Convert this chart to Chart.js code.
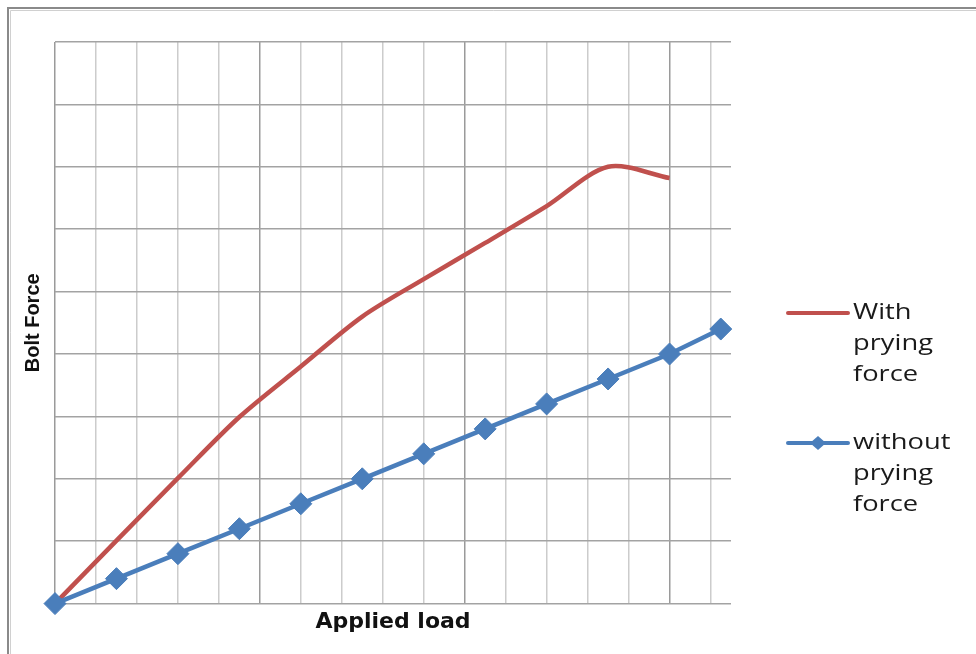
<!DOCTYPE html>
<html>
<head>
<meta charset="utf-8">
<script src="https://cdn.jsdelivr.net/npm/chart.js@4"></script>
<style>
  html, body { margin: 0; padding: 0; background: #ffffff; }
  #wrap { width: 976px; height: 654px; }
</style>
</head>
<body>
<div id="wrap"><canvas id="chart" width="976" height="654"></canvas></div>
<script>
// Applied load steps (x) and bolt force readings (y)
const loads = [0, 30, 60, 90, 120, 150, 180, 210, 240, 270, 300, 325];
const withPrying = [0, 10.1, 20.1, 29.9, 38.0, 46.0, 52.0, 57.8, 63.7, 70.0, 68.2];
const withoutPrying = [0, 4, 8, 12, 16, 20, 24, 28, 32, 36, 40, 44];

const seriesNames = [["With", "prying", "force"], ["without", "prying", "force"]];
const axisTitles = { x: "Applied load", y: "Bolt Force" };

const RED = "#c0504d";
const BLUE = "#4a7ebb";

function pairs(xs, ys) {
  return ys.map((v, i) => ({ x: xs[i], y: v }));
}

// Outer frame and the wrapped legend at the right
const framePlugin = {
  id: "frame",
  beforeDraw(chart) {
    const ctx = chart.ctx;
    ctx.save();
    ctx.fillStyle = "#ffffff";
    ctx.fillRect(0, 0, chart.width, chart.height);
    ctx.strokeStyle = "#8a8a8a";
    ctx.lineWidth = 2;
    ctx.beginPath();
    ctx.moveTo(8, chart.height);
    ctx.lineTo(8, 8);
    ctx.lineTo(chart.width, 8);
    ctx.stroke();
    ctx.strokeStyle = "#d0d0d0";
    ctx.lineWidth = 1;
    ctx.beginPath();
    ctx.moveTo(10.5, chart.height);
    ctx.lineTo(10.5, 10.5);
    ctx.lineTo(chart.width, 10.5);
    ctx.stroke();
    ctx.restore();
  },
  afterDraw(chart) {
    const ctx = chart.ctx;
    const entries = [
      { ds: chart.data.datasets[0], y: 313 },
      { ds: chart.data.datasets[1], y: 443 }
    ];
    ctx.save();
    entries.forEach((e) => {
      const ds = e.ds;
      ctx.strokeStyle = ds.borderColor;
      ctx.lineWidth = 4;
      ctx.lineCap = "round";
      ctx.beginPath();
      ctx.moveTo(788, e.y);
      ctx.lineTo(848, e.y);
      ctx.stroke();
      if (ds.pointStyle === "rectRot" && ds.pointRadius > 0) {
        ctx.fillStyle = ds.backgroundColor;
        ctx.beginPath();
        ctx.moveTo(818, e.y - 7);
        ctx.lineTo(826, e.y);
        ctx.lineTo(818, e.y + 7);
        ctx.lineTo(810, e.y);
        ctx.closePath();
        ctx.fill();
      }
      ctx.fillStyle = "#1a1a1a";
      ctx.font = "21px 'Open Sans'";
      ctx.textBaseline = "middle";
      ctx.textAlign = "left";
      ds.label.forEach((line, k) => {
        ctx.save();
        ctx.translate(853, e.y + k * 31);
        ctx.scale(1.3, 1);
        ctx.fillText(line, 0, 0);
        ctx.restore();
      });
    });
    ctx.restore();
  }
};

new Chart(document.getElementById("chart"), {
  type: "line",
  data: {
    datasets: [
      {
        label: seriesNames[0],
        data: pairs(loads, withPrying),
        borderColor: RED,
        backgroundColor: RED,
        borderWidth: 4.5,
        pointRadius: 0,
        pointHoverRadius: 0,
        tension: 0.3,
        fill: false,
        clip: false,
        order: 1
      },
      {
        label: seriesNames[1],
        data: pairs(loads, withoutPrying),
        borderColor: BLUE,
        backgroundColor: BLUE,
        borderWidth: 4.5,
        pointStyle: "rectRot",
        pointRadius: 11,
        pointBorderWidth: 1,
        pointBorderColor: BLUE,
        pointBackgroundColor: BLUE,
        tension: 0,
        fill: false,
        clip: false,
        order: 0
      }
    ]
  },
  options: {
    responsive: false,
    animation: false,
    devicePixelRatio: 1,
    layout: { padding: { left: 21, right: 245, top: 42, bottom: 19 } },
    plugins: {
      legend: { display: false },
      tooltip: { enabled: false },
      title: { display: false }
    },
    scales: {
      x: {
        type: "linear",
        min: 0,
        max: 330,
        border: { display: false },
        ticks: { display: false, stepSize: 20, includeBounds: false },
        grid: {
          drawTicks: false,
          lineWidth: 1.5,
          color: (c) => (c.tick && c.tick.value % 100 === 0 ? "#9a9a9a" : "#cccccc")
        },
        title: {
          display: true,
          text: axisTitles.x,
          color: "#111111",
          font: { family: "'DejaVu Sans'", size: 22, weight: "bold", lineHeight: 1.2 },
          padding: { top: 5, bottom: 0 }
        }
      },
      y: {
        type: "linear",
        min: 0,
        max: 90,
        border: { display: false },
        ticks: { display: false, stepSize: 10 },
        grid: { drawTicks: false, lineWidth: 1.5, color: "#a3a3a3" },
        title: {
          display: true,
          text: axisTitles.y,
          color: "#111111",
          font: { family: "'Liberation Sans'", size: 20, weight: "bold", lineHeight: 1.2 },
          padding: { top: 0, bottom: 10 }
        }
      }
    }
  },
  plugins: [framePlugin]
});
</script>
</body>
</html>
